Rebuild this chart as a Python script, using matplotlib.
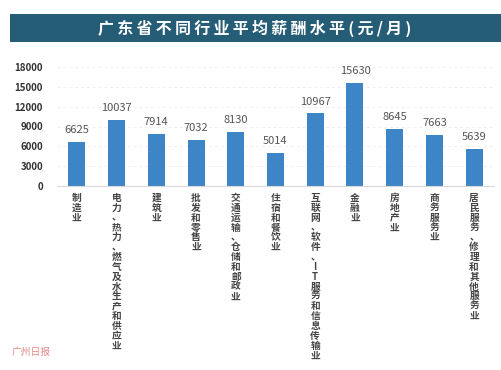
import matplotlib
matplotlib.use("Agg")
import matplotlib.pyplot as plt
from matplotlib.patches import Rectangle

plt.rcParams['font.family'] = ['Noto Sans CJK SC', 'DejaVu Sans']

title = "广东省不同行业平均薪酬水平(元/月)"
categories = ["制造业", "电力、热力、燃气及水生产和供应业", "建筑业", "批发和零售业",
              "交通运输、仓储和邮政业", "住宿和餐饮业", "互联网、软件、IT服务和信息传输业",
              "金融业", "房地产业", "商务服务业", "居民服务、修理和其他服务业"]
values = [6625, 10037, 7914, 7032, 8130, 5014, 10967, 15630, 8645, 7663, 5639]
yticks = [0, 3000, 6000, 9000, 12000, 15000, 18000]

W, H = 501, 370
fig = plt.figure(figsize=(W / 100, H / 100), dpi=100)
fig.patch.set_facecolor('white')

# Title banner
banner = Rectangle((10 / W, 1 - 42 / H), 1.0, 28 / H, transform=fig.transFigure,
                   facecolor='#255c76', edgecolor='none')
fig.patches.append(banner)
fig.text(255 / W, 1 - 28 / H, "\u2009".join(title), color='white', fontsize=11.5,
         fontweight='bold', ha='center', va='center')

ax = fig.add_axes([57 / W, 1 - 186 / H, (494 - 57) / W, (186 - 67) / H])
x = list(range(len(values)))
ax.bar(x, values, width=0.43, color='#3d85c6')
ax.set_xlim(-0.5, len(values) - 0.5)
ax.set_ylim(0, 18000)
ax.set_yticks(yticks)
ax.set_yticklabels([str(t) for t in yticks], fontsize=7, fontweight='bold', color='#333333')
ax.tick_params(axis='y', length=0, pad=10)
ax.tick_params(axis='x', length=0)
ax.set_xticks(x)
ax.set_xticklabels([])
for s in ['top', 'right', 'left']:
    ax.spines[s].set_visible(False)
ax.spines['bottom'].set_color('#d8d8d8')
ax.yaxis.grid(True, color='#eeeeee', linestyle=(0, (4, 3)), linewidth=0.6)
ax.set_axisbelow(True)

for xi, v in zip(x, values):
    ax.annotate(str(v), (xi, v), xytext=(0, 5), textcoords='offset points',
                ha='center', va='bottom', fontsize=8, color='#555555')

for xi, lab in zip(x, categories):
    ax.annotate("\n".join(lab), (xi, 0), xytext=(0, -5), textcoords='offset points',
                ha='center', va='top', fontsize=7, fontweight='bold', color='#444444',
                linespacing=0.98, annotation_clip=False)

fig.text(12 / W, 1 - 352 / H, "广州日报", color='#d9534f', fontsize=7, style='italic',
         alpha=0.7, ha='left', va='center')

fig.savefig("out.png", dpi=100)
